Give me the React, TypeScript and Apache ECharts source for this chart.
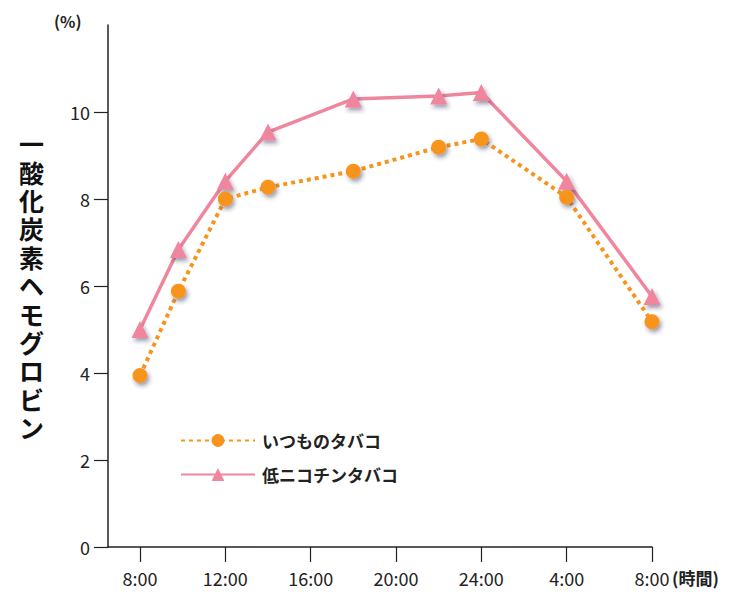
import React, { useEffect, useRef } from "react";
import * as echarts from "echarts";

const hours = [8, 9.8, 12, 14, 18, 22, 24, 28, 32];
const regularValues = [3.94, 5.88, 8.0, 8.27, 8.64, 9.19, 9.38, 8.04, 5.18];
const lowNicotineValues = [5.0, 6.84, 8.41, 9.54, 10.3, 10.37, 10.45, 8.41, 5.76];
const xTicks = [8, 12, 16, 20, 24, 28, 32];
const yTicks = [0, 2, 4, 6, 8, 10];
const seriesNames = ["いつものタバコ", "低ニコチンタバコ"];
const yTitle = "一酸化炭素ヘモグロビン";

const FONT = "'Noto Sans CJK JP', 'Noto Sans', sans-serif";

function fmtHour(v: number) {
  const h = v > 24 ? v - 24 : v;
  return `${h}:00`;
}

export default function App() {
  const ref = useRef<HTMLDivElement>(null);
  useEffect(() => {
    if (!ref.current) return;
    const chart = echarts.init(ref.current, null, { renderer: "svg" });
    const shadow = {
      shadowColor: "rgba(40,40,80,0.45)",
      shadowBlur: 4,
      shadowOffsetX: 2,
      shadowOffsetY: 3,
    };
    chart.setOption({
      animation: false,
      backgroundColor: "#fff",
      grid: { left: 108, right: 90, top: 25, bottom: 45 },
      xAxis: {
        type: "value",
        min: 6.5,
        max: 32,
        splitLine: { show: false },
        axisLine: { lineStyle: { color: "#222", width: 1.5 } },
        axisTick: {
          customValues: xTicks,
          length: 15,
          lineStyle: { color: "#222", width: 1.2 },
        },
        axisLabel: {
          customValues: xTicks,
          formatter: (v: number) => fmtHour(v),
          color: "#222",
          fontSize: 18,
          fontFamily: FONT,
          margin: 22,
        },
      },
      yAxis: {
        type: "value",
        min: 0,
        max: 12,
        splitLine: { show: false },
        axisLine: { show: true, lineStyle: { color: "#222", width: 1.5 } },
        axisTick: {
          show: true,
          customValues: yTicks,
          length: 14,
          lineStyle: { color: "#222", width: 1.2 },
        },
        axisLabel: {
          customValues: yTicks,
          color: "#222",
          fontSize: 18,
          fontFamily: FONT,
          margin: 18,
        },
      },
      legend: {
        orient: "vertical",
        left: 175,
        top: 427,
        itemWidth: 74,
        itemHeight: 16,
        itemGap: 17,
        textStyle: {
          fontSize: 17,
          fontWeight: "bold",
          color: "#222",
          fontFamily: FONT,
          padding: [0, 0, 0, 2],
        },
        data: seriesNames,
      },
      series: [
        {
          name: seriesNames[1],
          type: "line",
          data: hours.map((h, i) => [h, lowNicotineValues[i]]),
          symbol: "triangle",
          symbolSize: 17,
          lineStyle: { color: "#F0869E", width: 3.5 },
          itemStyle: { color: "#F0869E", ...shadow },
          z: 2,
        },
        {
          name: seriesNames[0],
          type: "line",
          data: hours.map((h, i) => [h, regularValues[i]]),
          symbol: "circle",
          symbolSize: 15,
          lineStyle: { color: "#F7941D", width: 4, type: [4, 4] },
          itemStyle: { color: "#F7941D", ...shadow },
          z: 3,
        },
      ],
      graphic: [
        {
          type: "text",
          left: 54,
          top: 13,
          style: {
            text: "(%)",
            fontSize: 16,
            fontWeight: "bold",
            fill: "#222",
            fontFamily: FONT,
          },
        },
        {
          type: "text",
          left: 672,
          top: 569,
          style: {
            text: "(時間)",
            fontSize: 17,
            fontWeight: "bold",
            fill: "#222",
            fontFamily: FONT,
          },
        },
        {
          type: "text",
          left: 19,
          top: 129,
          style: {
            text: yTitle.split("").join("\n"),
            fontSize: 25,
            lineHeight: 28.4,
            fontWeight: "bold",
            fill: "#111",
            fontFamily: FONT,
            align: "center",
          },
        },
      ],
    });
    return () => chart.dispose();
  }, []);
  return (
    <div
      ref={ref}
      style={{ position: "absolute", left: 0, top: 0, width: 742, height: 592 }}
    />
  );
}
